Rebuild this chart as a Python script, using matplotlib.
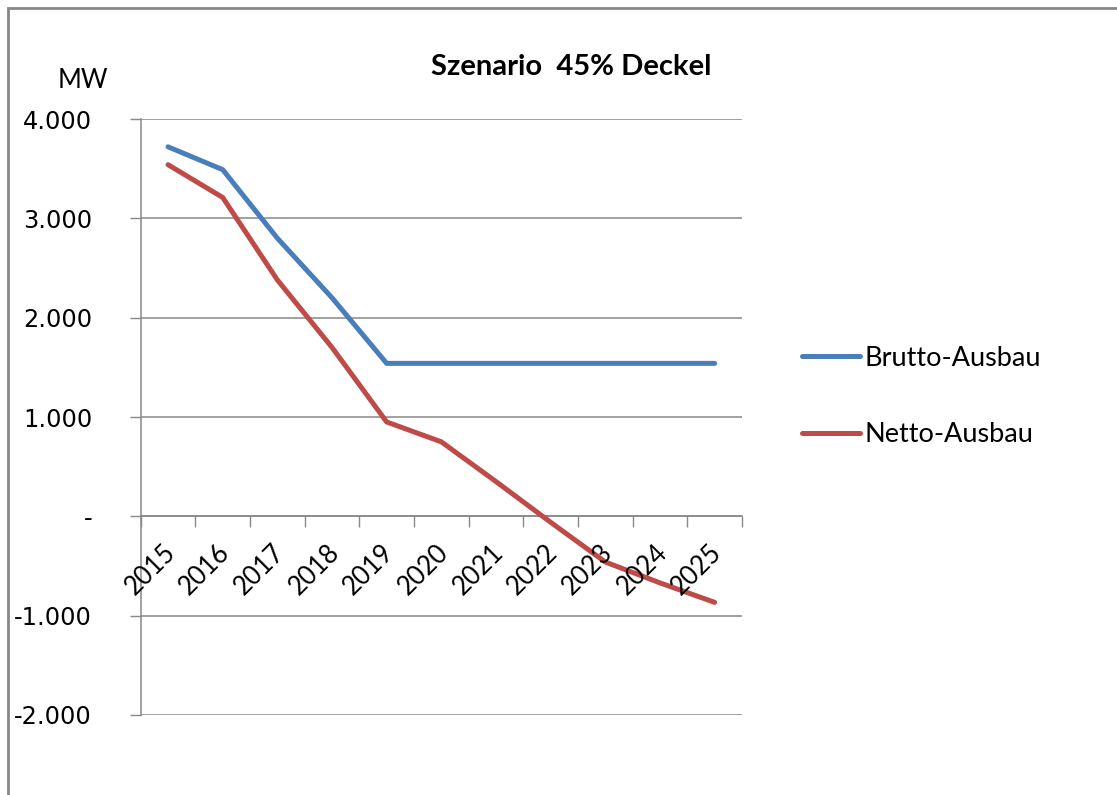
import matplotlib
matplotlib.use("Agg")
import matplotlib.pyplot as plt
from matplotlib.patches import Rectangle

years = ["2015", "2016", "2017", "2018", "2019", "2020",
         "2021", "2022", "2023", "2024", "2025"]
brutto = [3720, 3490, 2800, 2200, 1540, 1540, 1540, 1540, 1540, 1540, 1540]
netto = [3540, 3210, 2380, 1700, 950, 750, 350, -60, -460, -670, -866]
y_ticks = [-2000, -1000, 0, 1000, 2000, 3000, 4000]
y_labels = ["-2.000", "-1.000", "-", "1.000", "2.000", "3.000", "4.000"]

BLUE = "#4a7ebb"
RED = "#be4b48"
GRID = "#888888"

fig = plt.figure(figsize=(11.17, 7.95), dpi=100)
fig.patch.set_facecolor("white")
ax = fig.add_axes([140.7 / 1117, 1 - 715 / 795, 601.3 / 1117, 596 / 795])

x = list(range(len(years)))
ax.plot(x, brutto, color=BLUE, lw=3.6, solid_capstyle="round",
        solid_joinstyle="miter", label="Brutto-Ausbau", zorder=3)
ax.plot(x, netto, color=RED, lw=3.6, solid_capstyle="round",
        solid_joinstyle="miter", label="Netto-Ausbau", zorder=3)

ax.set_xlim(-0.5, len(years) - 0.5)
ax.set_ylim(-2000, 4000)

# y axis
ax.set_yticks(y_ticks)
ax.set_yticklabels(y_labels, fontsize=17.3, family="DejaVu Sans")
ax.tick_params(axis="y", length=8, width=1, color=GRID, pad=27)
ax.yaxis.grid(True, color=GRID, lw=1.1)
ax.set_axisbelow(True)

# x axis sits at zero, ticks between categories
for s in ("top", "right"):
    ax.spines[s].set_visible(False)
ax.spines["bottom"].set_position(("data", 0))
ax.spines["bottom"].set_color(GRID)
ax.spines["left"].set_color(GRID)
ax.spines["left"].set_linewidth(1.1)
ax.spines["bottom"].set_linewidth(1.1)
ax.set_xticks([i - 0.5 for i in range(len(years) + 1)])
ax.set_xticklabels([])
ax.tick_params(axis="x", length=8, width=1, color=GRID, direction="out")

for i, yr in enumerate(years):
    ax.annotate(yr, xy=(i, 0), xytext=(-4, -17), textcoords="offset points",
                rotation=45, ha="right", va="top", rotation_mode="anchor",
                fontsize=18.5, family="Lato")

ax.legend(loc="center left", bbox_to_anchor=(802 / 1117, 1 - 396.5 / 795),
          bbox_transform=fig.transFigure, frameon=False,
          prop={"family": "Lato", "size": 19.5}, handlelength=2.15,
          handletextpad=0.15, labelspacing=1.9, borderpad=0, borderaxespad=0)

fig.text(571 / 1117, 1 - 67 / 795, "Szenario  45% Deckel", ha="center",
         va="center", fontsize=21, fontweight="bold", family="Lato")
fig.text(83 / 1117, 1 - 81 / 795, "MW", ha="center", va="center",
         fontsize=18.5, family="Lato")

# outer chart border (top and left edges visible)
fig.add_artist(Rectangle((8 / 1117, -0.1), 1.2, 1 - 8 / 795 + 0.1,
                         transform=fig.transFigure, fill=False,
                         edgecolor="#888888", lw=2))

fig.savefig("out.png", dpi=100, facecolor="white")
